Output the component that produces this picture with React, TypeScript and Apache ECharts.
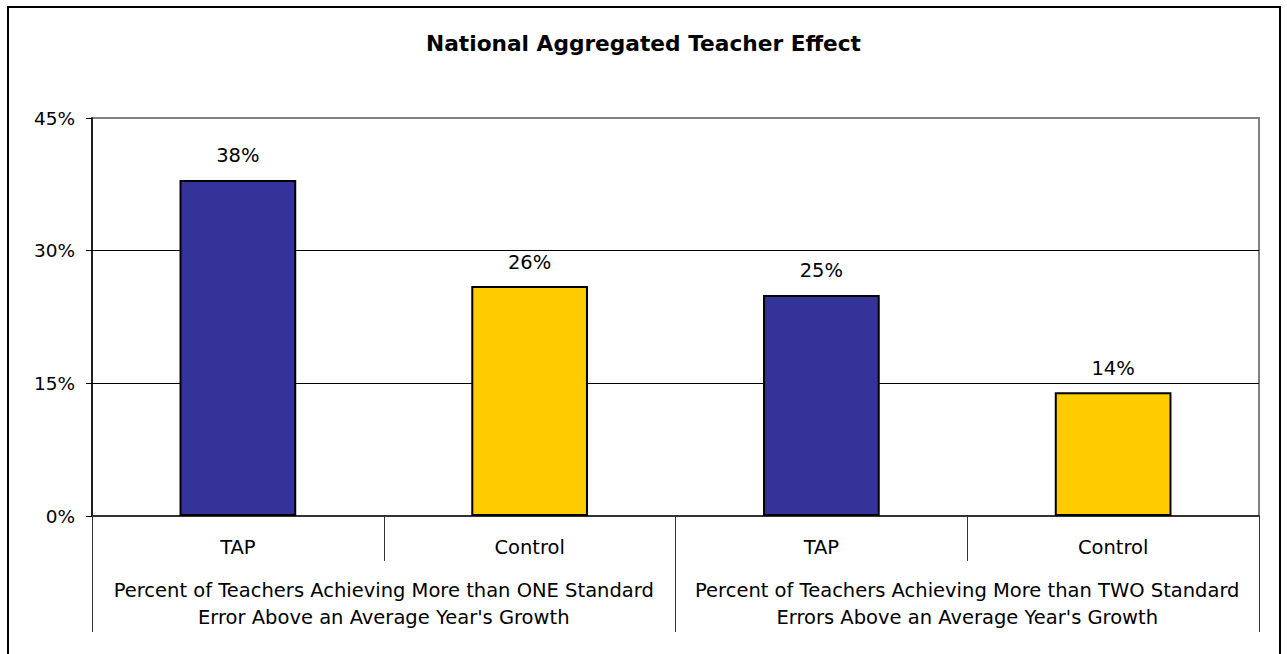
import React, { useEffect, useRef } from "react";
import * as echarts from "echarts";

const categories = ["TAP", "Control", "TAP", "Control"];
const groups = [
  "Percent of Teachers Achieving More than ONE Standard\nError Above an Average Year's Growth",
  "Percent of Teachers Achieving More than TWO Standard\nErrors Above an Average Year's Growth",
];
const values = [38, 26, 25, 14];
const barColors = ["#333399", "#FFCC00", "#333399", "#FFCC00"];
const titleText = "National Aggregated Teacher Effect";

export default function App() {
  const ref = useRef<HTMLDivElement>(null);
  useEffect(() => {
    if (!ref.current) return;
    const chart = echarts.init(ref.current, null, { renderer: "svg" });
    const wide = "DejaVu Sans, sans-serif";
    chart.setOption({
      animation: false,
      backgroundColor: "#fff",
      title: {
        text: titleText,
        left: "center",
        top: 27,
        textStyle: { fontFamily: wide, fontSize: 21.7, fontWeight: "bold", color: "#000" },
      },
      graphic: [
        {
          type: "rect",
          shape: { x: 8, y: 7, width: 1272, height: 700 },
          style: { fill: "none", stroke: "#000", lineWidth: 2 },
          z: 100,
        },
      ],
      grid: {
        left: 92,
        right: 28,
        top: 118,
        bottom: 138,
        show: true,
        borderColor: "#808080",
        borderWidth: 2,
      },
      yAxis: {
        type: "value",
        min: 0,
        max: 45,
        interval: 15,
        axisLine: { show: true, lineStyle: { color: "#000", width: 1.5 } },
        axisTick: { show: true, length: 6, lineStyle: { color: "#000" } },
        axisLabel: {
          formatter: "{value}%",
          margin: 17,
          fontFamily: wide,
          fontSize: 18.5,
          color: "#000",
        },
        splitLine: {
          show: true,
          lineStyle: { color: ["#000", "#000", "#000", "#808080"], width: 1 },
        },
      },
      xAxis: [
        {
          type: "category",
          data: categories,
          position: "bottom",
          axisLine: { show: true, lineStyle: { color: "#333", width: 2 } },
          axisTick: { show: true, interval: 0, length: 45, lineStyle: { color: "#333" } },
          axisLabel: { interval: 0, margin: 21, fontFamily: wide, fontSize: 19.5, color: "#000" },
        },
        {
          type: "category",
          data: groups,
          position: "bottom",
          axisLine: { show: false },
          axisTick: { show: true, interval: 0, length: 116, lineStyle: { color: "#333" } },
          axisLabel: {
            interval: 0,
            margin: 61,
            fontFamily: wide,
            fontSize: 19.5,
            lineHeight: 27,
            color: "#000",
            align: "center",
          },
        },
      ],
      series: [
        {
          type: "bar",
          xAxisIndex: 0,
          barWidth: "40%",
          data: values.map((v, i) => ({
            value: v,
            itemStyle: { color: barColors[i], borderColor: "#000", borderWidth: 2 },
          })),
          label: {
            show: true,
            position: "top",
            distance: 14,
            formatter: "{c}%",
            fontFamily: wide,
            fontSize: 19.5,
            color: "#000",
          },
        },
      ],
    });
    return () => chart.dispose();
  }, []);
  return (
    <div
      ref={ref}
      style={{ position: "absolute", left: 0, top: 0, width: 1287, height: 654 }}
    />
  );
}
